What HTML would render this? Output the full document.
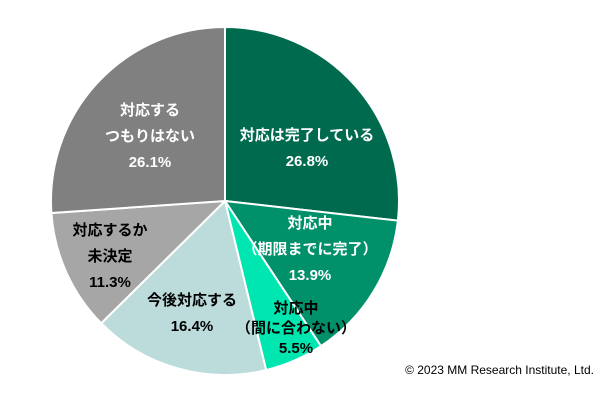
<!DOCTYPE html>
<html><head><meta charset="utf-8"><style>
body{margin:0;background:#fff;width:600px;height:408px;overflow:hidden}
svg text{font-family:"Liberation Sans","Noto Sans CJK JP",sans-serif;font-weight:bold;font-size:15px;text-anchor:middle}
</style></head><body>
<svg width="600" height="408">
<g id="slices"></g>
<g id="labels"></g>
<text x="594" y="374" style="font-weight:normal;font-size:12px;text-anchor:end" fill="#000">© 2023  MM Research Institute, Ltd.</text>
</svg>
<script>
const categories=["対応は完了している","対応中（期限までに完了）","対応中（間に合わない）","今後対応する","対応するか未決定","対応するつもりはない"];
const values=[26.8,13.9,5.5,16.4,11.3,26.1];
const colors=["#006a4e","#00906a","#00e6b0","#bcdcdc","#a6a6a6","#808080"];
const labelLines=[["対応は完了している"],["対応中","（期限までに完了）"],["対応中","（間に合わない）"],["今後対応する"],["対応するか","未決定"],["対応する","つもりはない"]];
const labelPos=[[307,140],[310,228],[296,313],[192,305],[110,235],[150,115]];
const lineGap=[26,26,20,26,26,26];
const textColors=["#fff","#fff","#000","#000","#000","#fff"];
const cx=225,cy=201,r=174;
const ns="http://www.w3.org/2000/svg";
const total=values.reduce((a,b)=>a+b,0);
let a0=0;
const gs=document.getElementById('slices'),gl=document.getElementById('labels');
values.forEach((v,i)=>{
 const a1=a0+v/total*2*Math.PI;
 const x0=cx+r*Math.sin(a0),y0=cy-r*Math.cos(a0),x1=cx+r*Math.sin(a1),y1=cy-r*Math.cos(a1);
 const p=document.createElementNS(ns,'path');
 p.setAttribute('d',`M${cx},${cy}L${x0},${y0}A${r},${r} 0 ${a1-a0>Math.PI?1:0} 1 ${x1},${y1}Z`);
 p.setAttribute('fill',colors[i]);p.setAttribute('stroke','#fff');p.setAttribute('stroke-width','2');
 
 
 gs.appendChild(p);
 const lines=labelLines[i].concat([values[i].toFixed(1)+'%']);
 const [lx,ly]=labelPos[i];
 const t=document.createElementNS(ns,'text');
 t.setAttribute('fill',textColors[i]);
 
 
 lines.forEach((s,j)=>{const ts=document.createElementNS(ns,'tspan');ts.setAttribute('x',lx);ts.setAttribute('y',ly+j*lineGap[i]);ts.textContent=s;t.appendChild(ts);});
 gl.appendChild(t);
 a0=a1;
});
</script>
</body></html>
